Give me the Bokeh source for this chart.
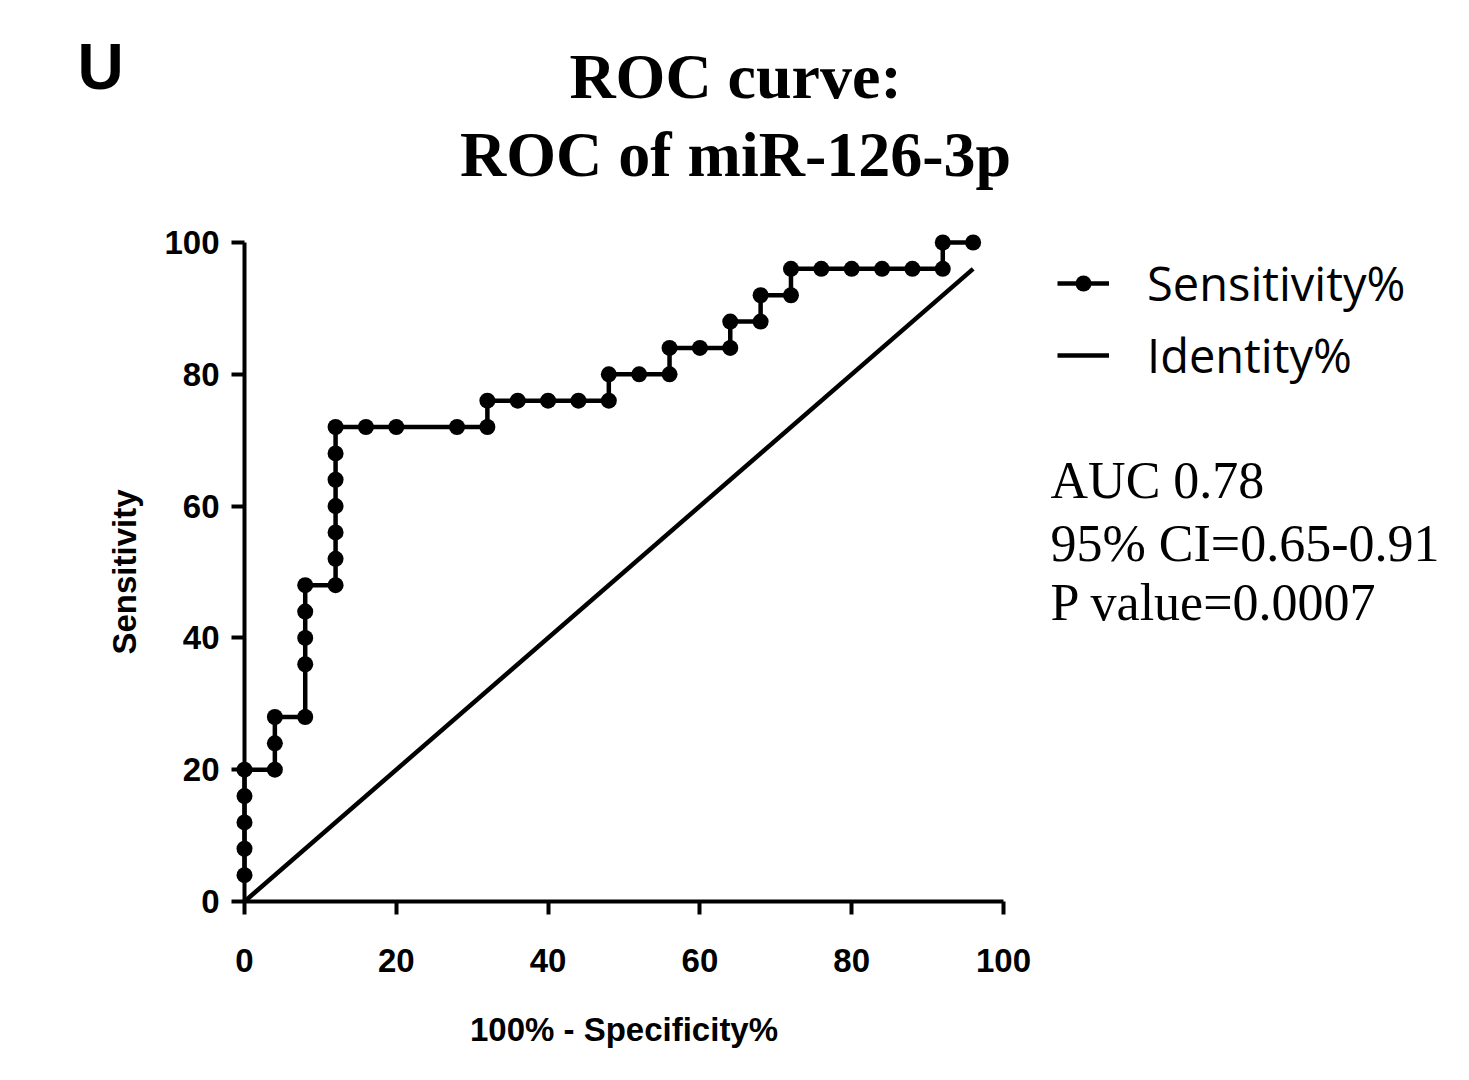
from bokeh.plotting import figure
from bokeh.models import Range1d, FixedTicker, Legend, LegendItem
from bokeh.core.properties import value
from bokeh.embed import file_html
from bokeh.resources import INLINE

# ---- data ----
fpr = [0, 0, 0, 0, 0, 4, 4, 4, 8, 8, 8, 8, 8, 12, 12, 12, 12, 12, 12, 12,
       16, 20, 28, 32, 32, 36, 40, 44, 48, 48, 52, 56, 56, 60, 64, 64, 68, 68,
       72, 72, 76, 80, 84, 88, 92, 92, 96]
tpr = [4, 8, 12, 16, 20, 20, 24, 28, 28, 36, 40, 44, 48, 48, 52, 56, 60, 64, 68, 72,
       72, 72, 72, 72, 76, 76, 76, 76, 76, 80, 80, 80, 84, 84, 84, 88, 88, 92,
       92, 96, 96, 96, 96, 96, 96, 100, 100]
identity_x = [0, 96]
identity_y = [0, 96]
ticks = [0, 20, 40, 60, 80, 100]
series_names = ["Sensitivity%", "Identity%"]
title_lines = ["ROC curve:", "ROC of miR-126-3p"]
stats_lines = ["AUC 0.78", "95% CI=0.65-0.91", "P value=0.0007"]
panel_letter = ["U"]
x_title = ["100% - Specificity%"]
y_title = "Sensitivity"

# layout: axes span 759 px for 0..100; the frame continues to the right edge
W, H = 1460, 1075
LEFT, AXIS_W = 244, 759
x_end = 100 * (W - LEFT) / AXIS_W

p = figure(width=W, height=H,
           x_range=Range1d(0, x_end), y_range=Range1d(0, 100),
           output_backend="svg", toolbar_location=None,
           min_border_left=LEFT, min_border_right=0,
           min_border_top=242, min_border_bottom=174)
p.outline_line_color = None
p.grid.visible = False
p.background_fill_color = "white"
p.border_fill_color = "white"

for ax in (p.xaxis[0], p.yaxis[0]):
    ax.ticker = FixedTicker(ticks=ticks)
    ax.bounds = (0, 100)
    ax.axis_line_width = 4
    ax.axis_line_color = "black"
    ax.major_tick_line_width = 4
    ax.major_tick_line_color = "black"
    ax.major_tick_out = 13
    ax.major_tick_in = 0
    ax.minor_tick_out = 0
    ax.minor_tick_in = 0
    ax.major_label_text_font = "Liberation Sans"
    ax.major_label_text_font_style = "bold"
    ax.major_label_text_font_size = "33px"
    ax.major_label_text_color = "black"
    ax.axis_label_text_font = "Liberation Sans"
    ax.axis_label_text_font_style = "bold"
    ax.axis_label_text_font_size = "33px"
    ax.axis_label_text_color = "black"

p.yaxis.axis_label = y_title
p.xaxis.major_label_standoff = 34
p.yaxis.major_label_standoff = 12
p.yaxis.axis_label_standoff = 18

# drawn at annotation level so that markers on the axes are not clipped
ident_r = p.line(identity_x, identity_y, line_width=4.5, line_color="black", level="annotation")
curve_r = p.line(fpr, tpr, line_width=4.5, line_color="black", level="annotation")
dots_r = p.scatter(fpr, tpr, marker="circle", size=16,
                   fill_color="black", line_color=None, level="annotation")

# x-axis title, centred under the 0..100 axis
p.text(x=[50], y=[-19.4], text=x_title,
       text_align="center", text_baseline="middle",
       text_font=value("Liberation Sans"), text_font_style="bold",
       text_font_size="33px", text_color="black", level="annotation")

# texts outside the axes (title, statistics, panel letter)
p.text(x=[64.7, 64.7], y=[125.2, 113.4], text=title_lines,
       text_align="center", text_baseline="middle",
       text_font=value("Liberation Serif"), text_font_style="bold",
       text_font_size="64px", text_color="black", level="annotation")
p.text(x=[106.2, 106.2, 106.2], y=[63.9, 54.4, 45.3], text=stats_lines,
       text_align="left", text_baseline="middle",
       text_font=value("Liberation Serif"), text_font_size="52px",
       text_color="black", level="annotation")
p.text(x=[-22.0], y=[126.6], text=panel_letter,
       text_align="left", text_baseline="middle",
       text_font=value("Liberation Sans"), text_font_style="bold",
       text_font_size="64px", text_color="black", level="annotation")

legend = Legend(items=[LegendItem(label=series_names[0], renderers=[curve_r, dots_r]),
                       LegendItem(label=series_names[1], renderers=[ident_r])],
                location=(813, 514), glyph_width=52, glyph_height=40,
                label_standoff=38, spacing=8, padding=0, margin=0,
                border_line_color=None, background_fill_alpha=0,
                label_text_font="Open Sans", label_text_font_size="47px",
                label_text_color="black")
p.add_layout(legend, "center")

open("out.html", "w").write(file_html(p, INLINE))
